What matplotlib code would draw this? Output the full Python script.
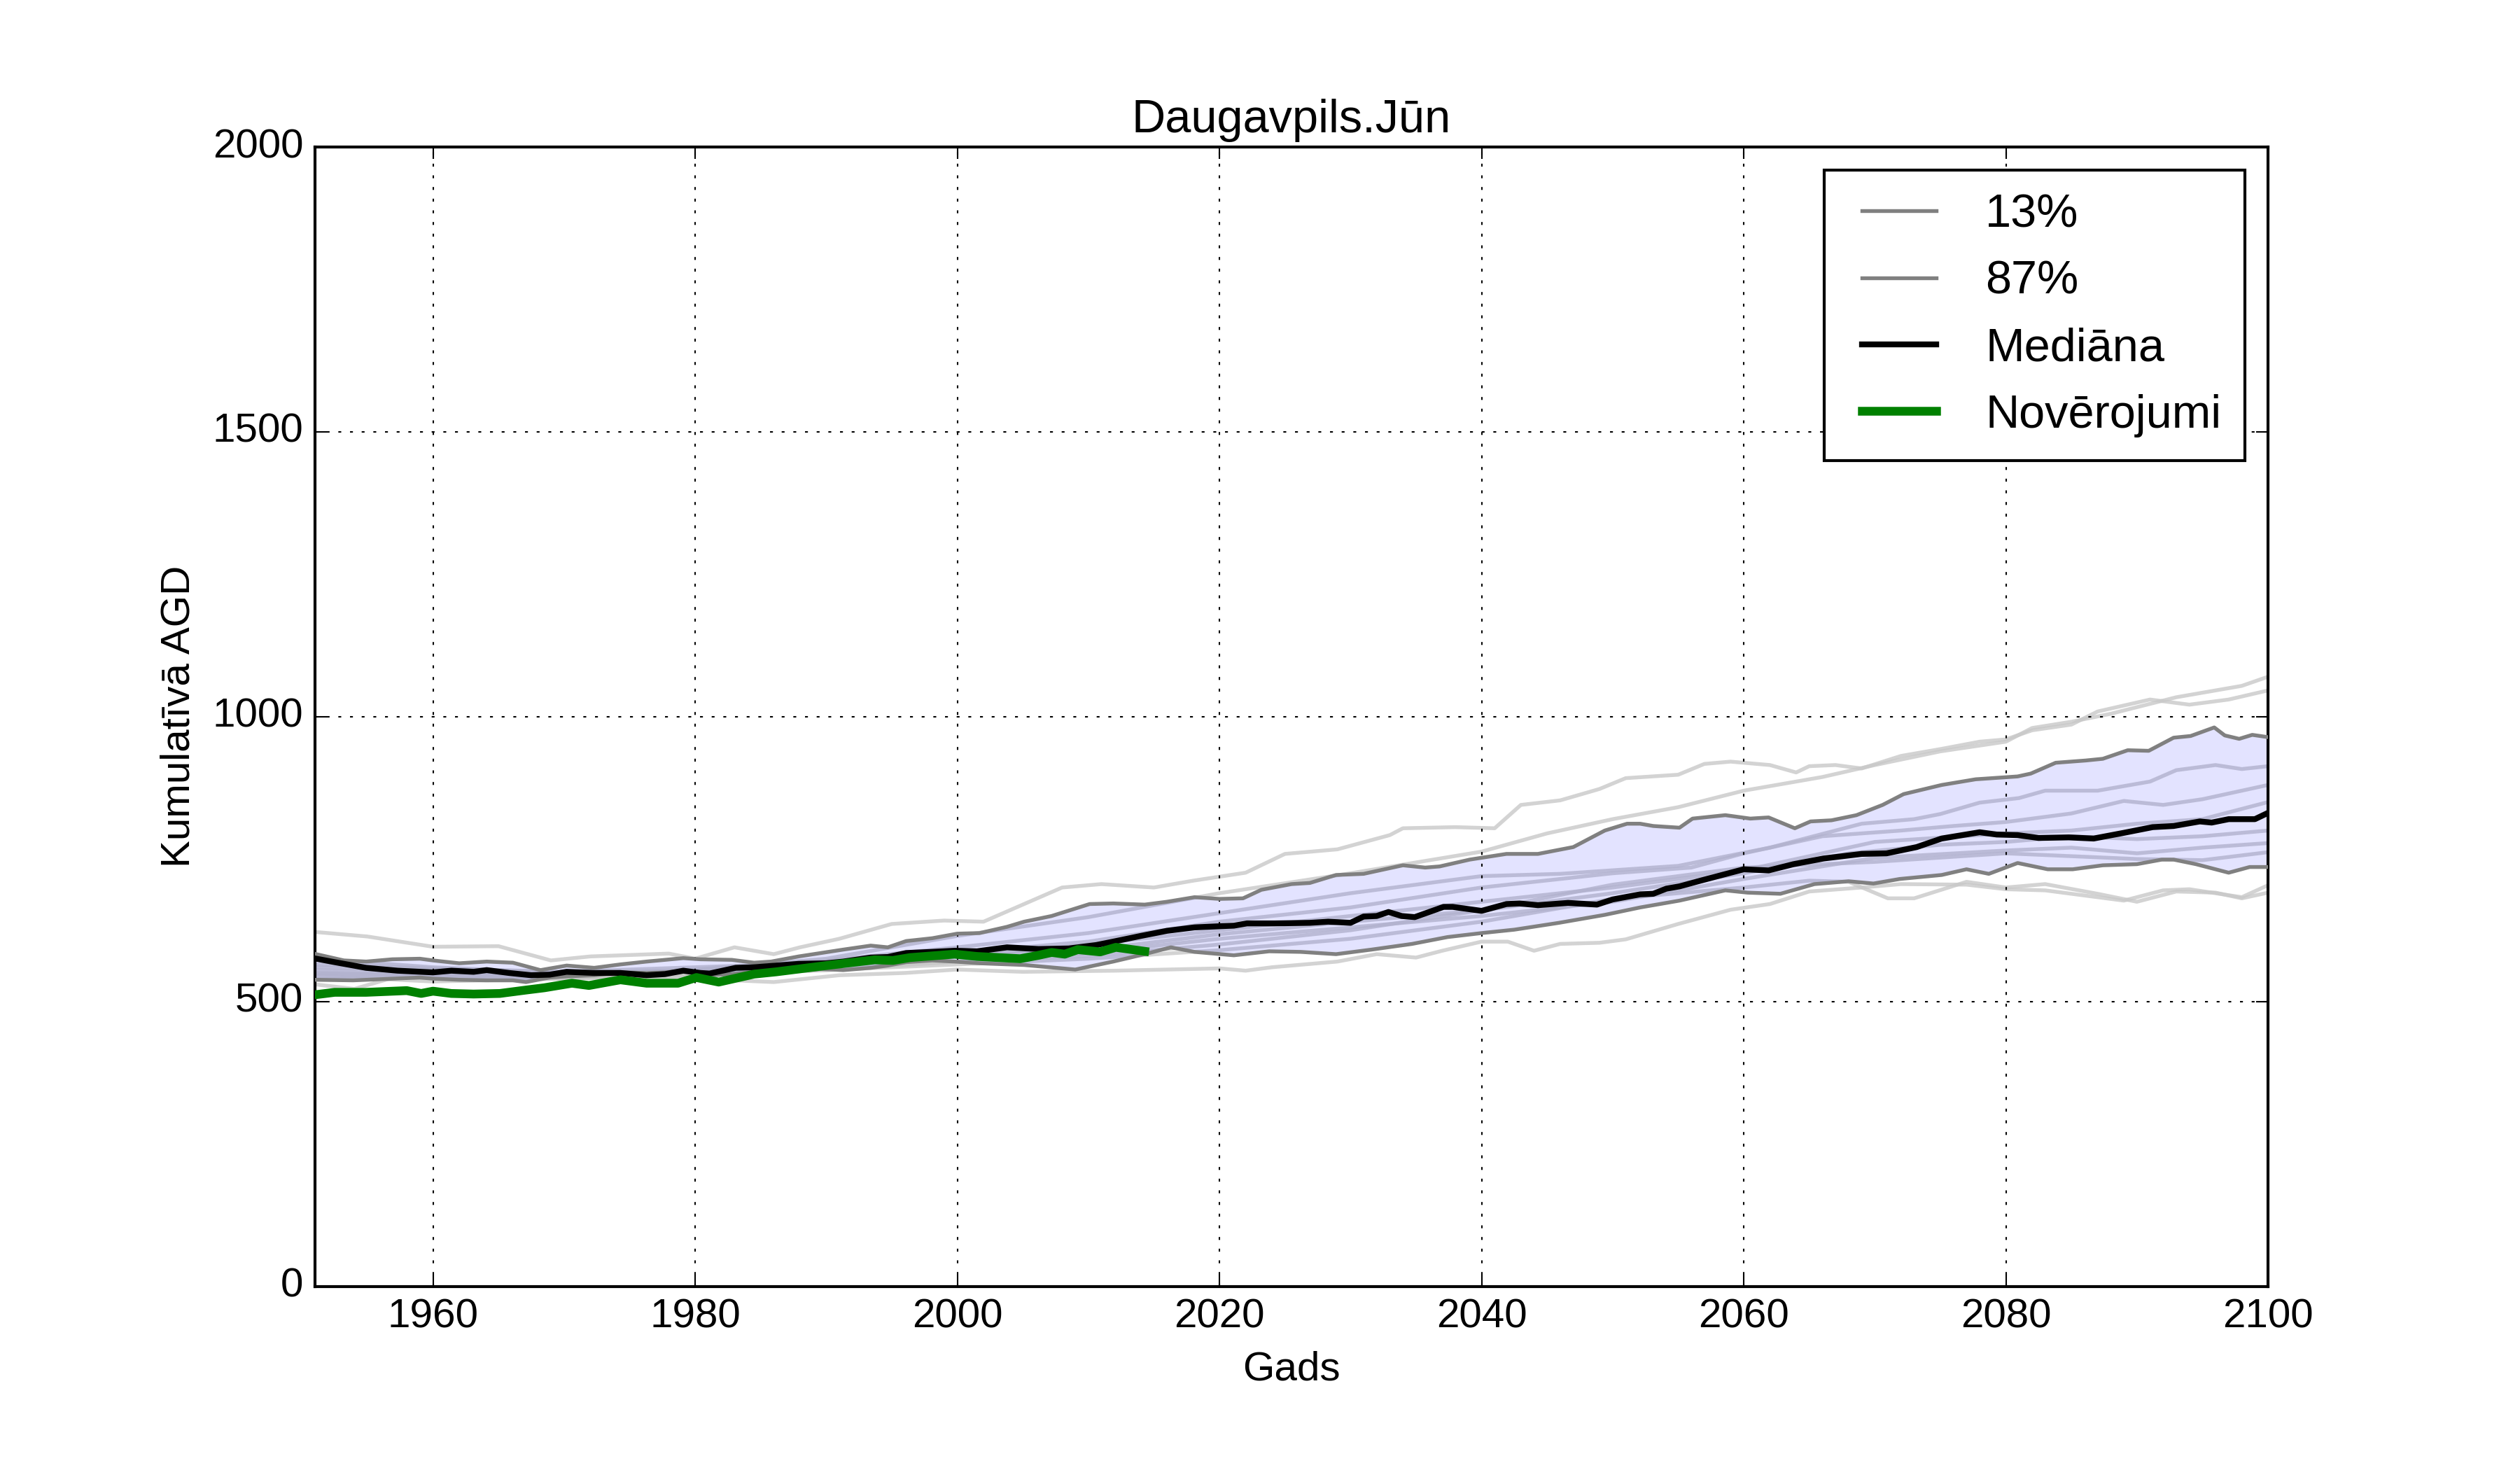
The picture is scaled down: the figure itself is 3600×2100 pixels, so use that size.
import numpy as np
import matplotlib
matplotlib.use("Agg")
import matplotlib.pyplot as plt

# dati nolasīti no attēla (gads, vērtība)
median_years = [1951.1, 1952.5, 1954.9, 1957.3, 1960, 1961.4, 1963.1, 1964.1, 1965.8, 1967.5, 1968.9,
                1970.2, 1972.3, 1974.3, 1976.3, 1977.7, 1979.1, 1980.4, 1981.1, 1983.1, 1984.5, 1986.2,
                1987.9, 1990, 1991.3, 1993.4, 1994.7, 1996.1, 1998.1, 1999.8, 2001.5, 2003.8, 2006.2,
                2008.5, 2010.6, 2011.9, 2014, 2016, 2018.1, 2020, 2021.1, 2022.1, 2024.2, 2026.9, 2028.3,
                2030, 2031, 2032, 2032.9, 2033.9, 2034.9, 2037.1, 2037.8, 2040, 2041.9, 2042.9, 2044.3,
                2046.6, 2048.8, 2050, 2052.1, 2053.1, 2054.1, 2055.1, 2056.7, 2060, 2061.9, 2063.8,
                2066.1, 2069, 2070.9, 2073.2, 2075.1, 2078, 2079.3, 2080.9, 2082.5, 2084.8, 2086.7, 2089,
                2091.2, 2092.8, 2094.8, 2095.7, 2097, 2099, 2100]
median_vals = [575, 569, 559, 554, 551, 554, 552, 555, 550, 546, 547,
               552, 550, 550, 546, 548, 554, 550, 549, 559, 560, 563,
               566, 567, 570, 577, 578, 585, 587, 589, 588, 595, 592,
               593, 599, 605, 615, 624, 630, 632, 633, 637, 637, 638, 640,
               638, 649, 650, 657, 650, 648, 666, 666, 659, 671, 672, 669,
               673, 670, 679, 688, 689, 698, 702, 712, 732, 730, 741,
               751, 759, 760, 771, 786, 797, 793, 792, 787, 788, 786, 796,
               806, 808, 816, 814, 820, 820, 831]

p87_years = [1951.1, 1953.2, 1954.9, 1956.9, 1959, 1960, 1962, 1964.1, 1966.1, 1968.2, 1970.2, 1972.3,
             1974.3, 1976.3, 1977.7, 1979.1, 1980.4, 1982.8, 1984.5, 1985.8, 1987.9, 1989.6, 1991.3,
             1993.4, 1994.7, 1996.1, 1998.1, 2000, 2001.7, 2003.8, 2005.1, 2007.2, 2010.1, 2011.9,
             2014.3, 2016, 2018.1, 2020, 2021.8, 2023.2, 2025.5, 2026.9, 2028.9, 2031, 2034, 2035.7,
             2036.8, 2039.1, 2041.9, 2044.3, 2047, 2049.4, 2051.1, 2052.1, 2053.1, 2055.1, 2056.1,
             2058.6, 2060.5, 2061.9, 2063.9, 2065.1, 2066.7, 2068.6, 2070.6, 2072.2, 2075.1, 2077.7,
             2080.9, 2081.9, 2083.8, 2086.1, 2087.4, 2089.3, 2090.9, 2092.8, 2094.1, 2095.9, 2096.7,
             2097.8, 2098.8, 2100]
p87_vals = [583, 572, 570, 574, 575, 572, 567, 570, 568, 555, 563, 559,
            565, 570, 573, 576, 574, 573, 568, 570, 579, 585, 591,
            598, 595, 606, 611, 619, 620, 631, 640, 650, 671, 672,
            670, 675, 683, 680, 681, 696, 706, 708, 722, 724, 739, 735,
            737, 749, 759, 759, 771, 800, 812, 812, 808, 805, 821,
            827, 821, 823, 804, 816, 818, 827, 845, 864, 880, 890,
            895, 900, 919, 923, 926, 941, 940, 963, 966, 981, 967,
            961, 968, 964]

p13_years = [1951.1, 1953.9, 1957, 1959, 1960, 1962, 1964.1, 1966.1, 1967.1, 1968.9, 1970.2, 1972.3,
             1974.3, 1976.3, 1977.7, 1979.1, 1981.1, 1982.8, 1984.5, 1986.2, 1987.9, 1989.6, 1991.3,
             1993.4, 1994.7, 1996.1, 1998.1, 1999.8, 2001.7, 2005.1, 2009, 2011.9, 2014.3, 2016.3,
             2018.1, 2021.1, 2023.8, 2026.2, 2028.9, 2031.6, 2034.7, 2037.4, 2040, 2042.5, 2045.9,
             2049.4, 2052.1, 2055.1, 2058.6, 2060.3, 2062.8, 2065.4, 2068, 2069.9, 2071.9, 2075.1,
             2077, 2078.7, 2080.9, 2083.2, 2085.1, 2087.4, 2090, 2091.9, 2092.8, 2094.5, 2097,
             2098.6, 2100]
p13_vals = [538, 537, 540, 542, 540, 538, 537, 537, 534, 542, 544, 546,
            551, 550, 551, 554, 546, 548, 552, 550, 554, 557, 555,
            559, 563, 569, 572, 570, 567, 564, 556, 570, 583, 595,
            587, 581, 588, 587, 583, 591, 601, 613, 620, 626, 638,
            652, 665, 677, 695, 691, 689, 706, 711, 707, 715, 722,
            732, 724, 743, 732, 732, 739, 741, 749, 749, 741, 726,
            736, 736]

obs_years = [1951.1, 1952.5, 1954.9, 1958, 1959.1, 1960, 1961.4, 1963.1, 1965.1, 1967.1, 1968.5, 1970.6,
             1971.9, 1974.3, 1976.3, 1978.7, 1980.1, 1981.8, 1984.5, 1986.2, 1990, 1993.7, 1995.1,
             1996.4, 1999.8, 2001.5, 2004.8, 2006.2, 2007.2, 2008.2, 2009.2, 2010.9, 2012.1, 2014.3]
obs_vals = [512, 516, 516, 519, 514, 518, 514, 513, 514, 520, 524, 532,
            528, 538, 532, 532, 542, 534, 548, 552, 563, 573, 572,
            577, 583, 579, 575, 581, 586, 583, 591, 587, 595, 588]

# atsevišķi ansambļa modeļi (gaiši pelēkās līnijas)
members = [
    ([1951, 1960, 1970, 1980, 1990, 2000, 2010, 2020, 2030, 2040, 2045, 2050, 2055, 2060, 2066, 2070,
      2075, 2080, 2082, 2085, 2088, 2093, 2098, 2100],
     [575, 560, 550, 555, 575, 615, 648, 690, 725, 763, 795, 820, 841, 870, 894, 915,
      939, 956, 980, 991, 1005, 1034, 1054, 1070]),
    ([1951, 1955, 1960, 1965, 1969, 1972, 1978, 1980, 1983, 1986, 1988, 1991, 1995, 1999, 2002, 2008,
      2011, 2015, 2018, 2022, 2025, 2029, 2033, 2034, 2038, 2041, 2043, 2046, 2049, 2051, 2055, 2057,
      2059, 2062, 2064, 2065, 2067, 2069, 2072, 2075, 2078, 2080, 2082, 2085, 2087, 2091, 2094, 2097, 2100],
     [622, 614, 596, 597, 572, 579, 584, 575, 595, 583, 595, 610, 636, 642, 640, 700,
      706, 700, 712, 726, 759, 767, 792, 804, 806, 804, 845, 853, 873, 892, 898, 917,
      921, 915, 902, 913, 915, 909, 931, 943, 956, 960, 976, 986, 1009, 1030, 1021, 1030, 1046]),
    ([1951, 1954, 1957, 1965, 1975, 1986, 1991, 1996, 2000, 2005, 2012, 2016, 2020, 2022, 2024, 2029,
      2032, 2035, 2037, 2040, 2042, 2044, 2046, 2049, 2051, 2055, 2059, 2062, 2065, 2069, 2072, 2077,
      2080, 2083, 2089, 2092, 2094, 2098, 2100],
     [530, 522, 542, 540, 545, 534, 546, 550, 556, 552, 554, 556, 558, 554, 560, 570,
      583, 577, 589, 605, 605, 589, 601, 603, 609, 636, 661, 671, 693, 700, 706, 705,
      697, 695, 677, 695, 697, 683, 704]),
    ([1951, 1960, 1970, 1980, 1990, 2000, 2010, 2020, 2030, 2040, 2050, 2060, 2065, 2068, 2071, 2073,
      2077, 2080, 2083, 2087, 2090, 2093, 2096, 2098, 2100],
     [545, 535, 540, 545, 555, 565, 575, 590, 610, 640, 680, 700, 712, 710, 681, 681,
      710, 700, 706, 689, 675, 693, 691, 681, 691]),
    ([1951, 1960, 1970, 1980, 1990, 2000, 2010, 2020, 2030, 2040, 2046, 2055, 2062, 2069, 2073, 2075,
      2078, 2081, 2083, 2087, 2091, 2093, 2096, 2098, 2100],
     [560, 556, 548, 556, 572, 595, 620, 655, 690, 720, 724, 738, 770, 812, 820, 829,
      849, 857, 870, 870, 886, 906, 915, 908, 913]),
    ([1951, 1960, 1970, 1980, 1990, 2000, 2010, 2020, 2030, 2040, 2050, 2056, 2060, 2066, 2072, 2076,
      2080, 2085, 2089, 2092, 2095, 2100],
     [555, 550, 545, 552, 565, 585, 605, 640, 665, 700, 725, 735, 760, 790, 800, 808,
      815, 830, 852, 845, 855, 880]),
    ([1951, 1960, 1970, 1980, 1990, 2000, 2010, 2020, 2030, 2040, 2050, 2060, 2070, 2080, 2085, 2090,
      2095, 2100],
     [548, 545, 550, 548, 560, 578, 600, 625, 650, 675, 700, 730, 780, 795, 800, 812,
      820, 850]),
    ([1951, 1960, 1970, 1980, 1990, 2000, 2010, 2020, 2030, 2040, 2050, 2060, 2068, 2075, 2080, 2085,
      2090, 2095, 2100],
     [565, 558, 552, 560, 568, 580, 590, 618, 640, 660, 690, 725, 760, 775, 780, 790,
      785, 790, 800]),
    ([1951, 1960, 1970, 1980, 1990, 2000, 2010, 2020, 2030, 2040, 2050, 2060, 2070, 2080, 2085, 2090,
      2095, 2100],
     [540, 542, 545, 550, 560, 570, 585, 610, 630, 650, 675, 715, 752, 765, 770, 760,
      770, 778]),
    ([1951, 1960, 1970, 1980, 1990, 2000, 2010, 2020, 2030, 2040, 2050, 2060, 2070, 2080, 2090, 2095,
      2100],
     [550, 545, 540, 548, 555, 570, 580, 600, 625, 660, 705, 735, 745, 760, 750, 748,
      762]),
]

x_ticks = [1960, 1980, 2000, 2020, 2040, 2060, 2080, 2100]
y_ticks = [0, 500, 1000, 1500, 2000]

plt.style.use("classic")
plt.rcParams["font.family"] = ["Liberation Sans", "DejaVu Sans"]
plt.rcParams["font.size"] = 14

fig, ax = plt.subplots(figsize=(12, 7))
fig.subplots_adjust(left=0.125, right=0.9, bottom=0.125, top=0.9)

# ansambļa līnijas
for yrs, vals in members:
    ax.plot(yrs, vals, color="#c8c8c8", lw=1.3, alpha=0.8, zorder=1)

# josla starp 13% un 87%
band_x = np.r_[p87_years, p13_years[::-1]]
band_y = np.r_[p87_vals, p13_vals[::-1]]
ax.fill(band_x, band_y, color="blue", alpha=0.11, lw=0, zorder=2)

ax.plot(p13_years, p13_vals, color="gray", lw=1.3, label="13%", zorder=3)
ax.plot(p87_years, p87_vals, color="gray", lw=1.3, label="87%", zorder=3)
ax.plot(median_years, median_vals, color="black", lw=2.0, label="Mediāna", zorder=4)
ax.plot(obs_years, obs_vals, color="green", lw=3.0, label="Novērojumi", zorder=5)

ax.set_xlim(1951, 2100)
ax.set_ylim(0, 2000)
ax.set_xticks(x_ticks)
ax.set_yticks(y_ticks)
ax.grid(True)
ax.set_title("Daugavpils.Jūn", fontsize=16)
ax.set_xlabel("Gads", fontsize=14)
ax.set_ylabel("Kumulatīvā AGD", fontsize=14)

leg = ax.legend(loc="upper right", fontsize=16, handlelength=2.2, handletextpad=0.75,
                labelspacing=0.5, borderpad=0.5)
leg.get_frame().set_linewidth(1.0)

fig.savefig("out.png", dpi=300, facecolor="white")
